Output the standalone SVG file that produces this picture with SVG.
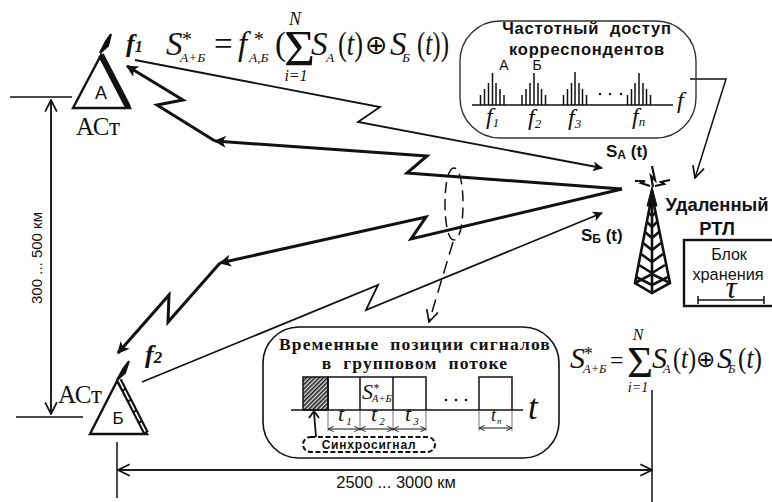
<svg xmlns="http://www.w3.org/2000/svg" width="772" height="502" viewBox="0 0 772 502">
<style>
text{fill:#111}
.s{font-family:"Liberation Sans",Arial,sans-serif}
.b{font-family:"Liberation Sans",Arial,sans-serif;font-weight:bold}
.r{font-family:"Liberation Serif","Times New Roman",serif}
.i{font-family:"Liberation Serif","Times New Roman",serif;font-style:italic}
.o{font-family:"DejaVu Sans",sans-serif}
.m{text-anchor:middle}
.l{fill:none;stroke:#111;stroke-width:1.5}
.t{fill:none;stroke:#111;stroke-width:1.8}
.h{fill:none;stroke:#111;stroke-width:3}
.d{stroke:#111;stroke-width:1;fill:none}
.tower{fill:none;stroke:#111;stroke-width:2.6}
</style>
<defs>
<pattern id="hatch" width="3" height="3" patternUnits="userSpaceOnUse" patternTransform="rotate(-45)"><rect width="3" height="3" fill="#ddd"/><rect width="3" height="1.6" fill="#222"/></pattern>
<marker id="tri" viewBox="0 0 10 10" refX="9" refY="5" markerWidth="16" markerHeight="12" markerUnits="userSpaceOnUse" orient="auto"><path d="M0 0L10 5L0 10L2.5 5Z" fill="#111"/></marker>
<marker id="triR" viewBox="0 0 10 10" refX="9" refY="5" markerWidth="14" markerHeight="10" markerUnits="userSpaceOnUse" orient="auto"><path d="M0 0L10 5L0 10L2.5 5Z" fill="#111"/></marker>
<marker id="open" viewBox="0 0 12 12" refX="11" refY="6" markerWidth="14" markerHeight="14" markerUnits="userSpaceOnUse" orient="auto"><path d="M1 1L11 6L1 11" fill="none" stroke="#111" stroke-width="1.5"/></marker>
<marker id="tick" viewBox="0 0 8 8" refX="7.5" refY="4" markerWidth="7" markerHeight="7" markerUnits="userSpaceOnUse" orient="auto-start-reverse"><path d="M1 1L7.5 4L1 7" fill="none" stroke="#111" stroke-width="1"/></marker>
</defs>

<g id="connectors">
<path class="t" marker-end="url(#triR)" d="M135 60L380 107L358 122L602 168"/>
<path class="h" marker-end="url(#tri)" d="M622 189L407 173L427 156L215 141"/>
<path class="h" marker-end="url(#tri)" d="M215 141L157 105L183 100L127 66"/>
<path class="h" marker-end="url(#tri)" d="M622 189L411 239L426 217L220 263"/>
<path class="h" marker-end="url(#tri)" d="M220 263L168 322L169 295L118 353"/>
<path class="t" marker-end="url(#triR)" d="M142 382L378 285L366 310L602 213"/>
<path class="l" stroke-dasharray="11 6" d="M454 168C448 168 445 185 445 204C445 223 448 240 454 240C460 240 463 223 463 204C463 185 460 168 454 168Z"/>
<path class="l" stroke-dasharray="13 7" marker-end="url(#open)" d="M453 242L429 322"/>
<path class="l" marker-end="url(#open)" d="M690 79L726 79L695 178"/>
<path class="l" d="M10 97H72M16 417H83"/>
<path class="l" marker-end="url(#open)" d="M51 414V100"/>
<path class="l" marker-end="url(#open)" d="M51 100V414"/>
<path class="l" marker-end="url(#open)" d="M118 470H652"/>
<path class="l" marker-end="url(#open)" d="M652 470H118"/>
<path class="l" d="M117 442V498M652 390V502"/>
</g>

<g id="node-a">
<path d="M101 55L73 108H130Z" fill="none" stroke="#111" stroke-width="2.4"/>
<path d="M101 55L128 107" stroke="#111" stroke-width="6" fill="none"/>
<path d="M100 53L106 41L111 34L108 46Z" fill="#111" stroke="#111" stroke-width="2"/>
<text class="s m" x="101" y="99" font-size="18">А</text>
<text class="r m" x="98" y="135" font-size="25">АСт</text>
<text class="i" x="126" y="52" font-size="26" font-weight="bold">f<tspan font-size="16">1</tspan></text>
</g>

<g id="node-b">
<path d="M117 381L90 434H147Z" fill="none" stroke="#111" stroke-width="2.4"/>
<path d="M119 380L146 433" fill="none" stroke="#111" stroke-width="6"/>
<path d="M119 380L146 433" fill="none" stroke="#fff" stroke-width="1.6" stroke-dasharray="10 2"/>
<path d="M117 380L123 369L129 361L125 373Z" fill="#111" stroke="#111" stroke-width="2"/>
<text class="s m" x="118" y="424" font-size="17">Б</text>
<text class="r m" x="80" y="403" font-size="25">АСт</text>
<text class="i" x="145" y="363" font-size="26" font-weight="bold">f<tspan font-size="17">2</tspan></text>
</g>

<g id="dim-labels">
<text class="s m" transform="translate(42 258) rotate(-90)" font-size="15">300 ... 500 км</text>
<text class="s m" x="396" y="488" font-size="16.500">2500 ... 3000 км</text>
</g>

<g id="formula-top">
<text class="i" x="166" y="55" font-size="33">S</text>
<text class="i" x="181" y="46" font-size="20">*</text>
<text class="i" x="180" y="62" font-size="13.5">A+Б</text>
<text class="r" x="214" y="55" font-size="33">=</text>
<text class="i" x="238" y="55" font-size="33">f</text>
<text class="i" x="253" y="46" font-size="20">*</text>
<text class="i" x="249" y="62" font-size="13.5">A,Б</text>
<text class="r" x="275" y="55" font-size="33">(</text>
<text class="r" x="284" y="65" font-size="50" textLength="31" lengthAdjust="spacingAndGlyphs">Σ</text>
<text class="i m" x="295" y="25" font-size="18">N</text>
<text class="i m" x="296" y="81" font-size="16">i=1</text>
<text class="i" x="311" y="55" font-size="33">S</text>
<text class="i" x="326" y="62" font-size="13.5">A</text>
<text class="r" x="338" y="55" font-size="33" textLength="25" lengthAdjust="spacingAndGlyphs">(<tspan class="i">t</tspan>)</text>
<text class="o" x="365" y="54" font-size="27">⊕</text>
<text class="i" x="390" y="55" font-size="33">S</text>
<text class="i" x="402" y="62" font-size="13.5">Б</text>
<text class="r" x="417" y="55" font-size="33" textLength="32" lengthAdjust="spacingAndGlyphs">(<tspan class="i">t</tspan>))</text>
</g>

<g id="formula-bottom">
<text class="i" x="570" y="368" font-size="30">S</text>
<text class="i" x="583" y="360" font-size="18">*</text>
<text class="i" x="583" y="373" font-size="12.5">A+Б</text>
<text class="r" x="610" y="368" font-size="24">=</text>
<text class="r" x="627" y="377" font-size="44" textLength="26" lengthAdjust="spacingAndGlyphs">Σ</text>
<text class="i m" x="638" y="340" font-size="16">N</text>
<text class="i m" x="638" y="392" font-size="14">i=1</text>
<text class="i" x="652" y="368" font-size="30">S</text>
<text class="i" x="663" y="373" font-size="12.5">A</text>
<text class="r" x="673" y="368" font-size="30" textLength="23" lengthAdjust="spacingAndGlyphs">(<tspan class="i">t</tspan>)</text>
<text class="o" x="696" y="367" font-size="23">⊕</text>
<text class="i" x="717" y="368" font-size="30">S</text>
<text class="i" x="728" y="373" font-size="12.5">Б</text>
<text class="r" x="738" y="368" font-size="30" textLength="24" lengthAdjust="spacingAndGlyphs">(<tspan class="i">t</tspan>)</text>
</g>

<g id="freq-access">
<rect x="460" y="21" width="236" height="117" rx="40" fill="none" stroke="#333" stroke-width="1.4"/>
<text class="b m" x="587" y="34" font-size="16.5" letter-spacing=".8" xml:space="preserve">Частотный  доступ</text>
<text class="b m" x="587" y="55" font-size="16.5" letter-spacing=".8">корреспондентов</text>
<text class="s m" x="504" y="70" font-size="14">А</text>
<text class="s m" x="537" y="70" font-size="14">Б</text>
<path class="l" d="M472 105H673"/>
<path class="l" d="M480.500 105V95M484.500 105V89M488.500 105V83M492.500 105V73M496 105V83M500 105V89M504 105V95"/>
<path class="l" d="M522 105V95M526 105V89M530 105V83M534 105V73M538 105V83M541.500 105V89M545.500 105V95"/>
<path class="l" d="M563.500 105V95M567.500 105V89M571.500 105V83M575 105V72M579 105V83M582.500 105V89M586.500 105V95"/>
<path class="l" d="M627.500 105V95M631.500 105V89M635 105V83M639 105V73M643 105V83M646.500 105V89M650.500 105V95"/>
<circle cx="600" cy="94" r="1.2" fill="#111"/><circle cx="610" cy="94" r="1.2" fill="#111"/><circle cx="621" cy="94" r="1.2" fill="#111"/>
<text class="i" x="677" y="108" font-size="24">f</text>
<text class="i" x="486" y="124" font-size="24">f<tspan class="r" font-size="13" dy="3">1</tspan></text>
<text class="i" x="528" y="125" font-size="24">f<tspan class="r" font-size="13" dy="3">2</tspan></text>
<text class="i" x="568" y="125" font-size="24">f<tspan class="r" font-size="13" dy="3">3</tspan></text>
<text class="i" x="632" y="124" font-size="24">f<tspan font-size="13" dy="2">n</tspan></text>
</g>

<g id="signal-labels">
<text class="b" x="606" y="157" font-size="17">S<tspan font-size="12" dy="2">A</tspan><tspan dy="-2"> (t)</tspan></text>
<text class="b" x="581" y="241" font-size="17">S<tspan font-size="12" dy="2">Б</tspan><tspan dy="-2"> (t)</tspan></text>
</g>

<g id="rtl">
<g class="tower">
<path d="M652 195L635 283L652 293L670 283Z"/>
<path d="M652 190V293"/>
<path d="M648 212L652 216L656 212M647 222L652 227L657 222M645 232L652 238L659 232M643 243L652 250L661 243M641 254L652 262L663 254M639 265L652 273L665 265M636 277L652 285L668 277"/>
<path d="M635 283L652 274L670 283"/>
</g>
<path d="M652 187L647 206H657Z" fill="#111" stroke="#111" stroke-width="1"/>
<path d="M653 187L651 176L655 180L652 166" fill="none" stroke="#111" stroke-width="2.200"/>
<path d="M650 186L641 183L645 181L635 181" fill="none" stroke="#111" stroke-width="2.200"/>
<path d="M655 186L664 184L661 182L670 180" fill="none" stroke="#111" stroke-width="2.200"/>
<text class="b m" x="717" y="211" font-size="18.400">Удаленный</text>
<text class="b m" x="717" y="235" font-size="18.400">РТЛ</text>
</g>

<g id="storage">
<rect x="684" y="240" width="92" height="66" fill="#fff" stroke="#111" stroke-width="2.4"/>
<text class="s m" x="729" y="260" font-size="16">Блок</text>
<text class="s m" x="728" y="280" font-size="16.300">хранения</text>
<text class="i m" x="731" y="298" font-size="31">τ</text>
<path class="l" d="M698 300H764M698 296V304M764 296V304"/>
</g>

<g id="time-positions">
<rect x="263" y="327" width="296" height="131" rx="36" fill="none" stroke="#111" stroke-width="1.6"/>
<text class="r m" x="415" y="350" font-size="17.500" font-weight="bold" letter-spacing="1.100" xml:space="preserve">Временные  позиции сигналов</text>
<text class="r m" x="415" y="369" font-size="17.500" font-weight="bold" letter-spacing="1.100" xml:space="preserve">в  групповом  потоке</text>
<rect x="303" y="377" width="25" height="33" fill="url(#hatch)" stroke="#111" stroke-width="1.500"/>
<path class="l" d="M328 410V377H426V410M360 377V410M393 377V410M479 410V377H512V410M291 410H523"/>
<circle cx="446" cy="400" r="1.300" fill="#111"/><circle cx="456" cy="400" r="1.300" fill="#111"/><circle cx="466" cy="400" r="1.300" fill="#111"/>
<text class="i" x="528" y="419" font-size="35">t</text>
<text class="i" x="362" y="399" font-size="22">S</text>
<text class="i" x="373" y="392" font-size="12">*</text>
<text class="i" x="372" y="402" font-size="10.500">A+Б</text>
<text class="i" x="338" y="421" font-size="22">t<tspan class="r" font-size="11" dy="4" dx="2">1</tspan></text>
<text class="i" x="371" y="421" font-size="22">t<tspan class="r" font-size="11" dy="4" dx="2">2</tspan></text>
<text class="i" x="405" y="421" font-size="22">t<tspan class="r" font-size="11" dy="4" dx="2">3</tspan></text>
<text class="i" x="491" y="421" font-size="18">t<tspan font-size="9" dy="3" dx="1">n</tspan></text>
<path class="d" marker-start="url(#tick)" marker-end="url(#tick)" d="M328 429H360"/>
<path class="d" marker-start="url(#tick)" marker-end="url(#tick)" d="M360 429H393"/>
<path class="d" marker-start="url(#tick)" marker-end="url(#tick)" d="M393 429H426"/>
<path class="d" marker-start="url(#tick)" marker-end="url(#tick)" d="M479 428H512"/>
<path stroke="#555" stroke-width=".8" fill="none" d="M328 410V431M360 410V431M393 410V431M426 410V431M479 410V431M512 410V431"/>
<path stroke="#111" stroke-width="1.8" fill="none" d="M316 437L314 412M309 418L314 411L319 418"/>
<rect x="303" y="437" width="132" height="15" rx="7.500" fill="#fff" stroke="#111" stroke-width="2" stroke-dasharray="5 2.500"/>
<text class="b m" x="369" y="449" font-size="12" letter-spacing=".8">Синхросигнал</text>
</g>
</svg>
